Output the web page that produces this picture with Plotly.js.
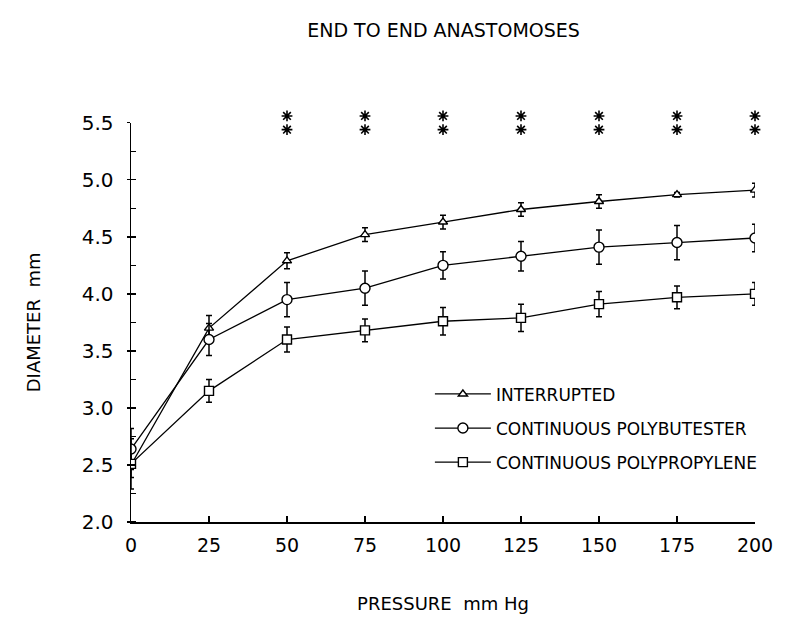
<!DOCTYPE html>
<html>
<head>
<meta charset="utf-8">
<script src="https://cdn.plot.ly/plotly-3.0.1.min.js"></script>
<style>html,body{margin:0;padding:0;background:#fff;}#chart{width:785px;height:619px;}</style>
</head>
<body>
<div id="chart"></div>
<script>
// Pressure (mm Hg)
var pressure = [0, 25, 50, 75, 100, 125, 150, 175, 200];

// Diameter (mm), mean values
var interrupted   = [2.50, 3.70, 4.29, 4.52, 4.63, 4.74, 4.81, 4.87, 4.91];
var polybutester  = [2.64, 3.60, 3.95, 4.05, 4.25, 4.33, 4.41, 4.45, 4.49];
var polypropylene = [2.51, 3.15, 3.60, 3.68, 3.76, 3.79, 3.91, 3.97, 4.00];

// Error bars (SE)
var interruptedErr   = [0.11, 0.11, 0.07, 0.06, 0.06, 0.06, 0.06, 0.02, 0.06];
var polybutesterErr  = [0.18, 0.14, 0.15, 0.15, 0.12, 0.13, 0.15, 0.15, 0.12];
var polypropyleneErr = [0.22, 0.10, 0.11, 0.10, 0.12, 0.12, 0.11, 0.10, 0.10];

// Significance markers (two asterisks per pressure), in diameter units
var sigPressure = [50, 75, 100, 125, 150, 175, 200];
var sigUpper = [5.56, 5.56, 5.56, 5.56, 5.56, 5.56, 5.56];
var sigLower = [5.44, 5.44, 5.44, 5.44, 5.44, 5.44, 5.44];

var names = ['INTERRUPTED', 'CONTINUOUS POLYBUTESTER', 'CONTINUOUS POLYPROPYLENE'];
var titleText = 'END TO END ANASTOMOSES';
var xTitle = 'PRESSURE  mm Hg';
var yTitle = 'DIAMETER  mm';

var FONT = 'DejaVu Sans, sans-serif';

// geometry: main y axis 2.0..5.5 spans a fraction of the plot area; a hidden
// second y axis on the same scale extends above it to carry the asterisks.
var yMin = 2.0, yMax = 5.5;
var y2Min = 5.38, y2Max = 5.62;
var topExtent = 5.70;               // value at the top edge of the plot area
var span = topExtent - yMin;
var mainDomain = [0, (yMax - yMin) / span];
var starDomain = [(y2Min - yMin) / span, (y2Max - yMin) / span];

function series(y, err, name, symbol, size, group) {
  return {
    x: pressure, y: y, name: name, type: 'scatter', mode: 'lines+markers',
    legendgroup: group,
    line: {color: '#000', width: 1.3},
    marker: {symbol: symbol, size: size, color: '#fff', line: {color: '#000', width: 1.4}},
    error_y: {type: 'data', array: err, visible: true, color: '#000', thickness: 1.5, width: 3}
  };
}

function stars(y) {
  return {x: sigPressure, y: y, yaxis: 'y2', mode: 'markers', showlegend: false, cliponaxis: false, hoverinfo: 'skip',
    marker: {symbol: 'asterisk-open', size: 9, color: '#000', line: {color: '#000', width: 1.6}}};
}

var traces = [
  series(interrupted, interruptedErr, names[0], 'triangle-up', 8, 'a'),
  series(polybutester, polybutesterErr, names[1], 'circle', 10, 'b'),
  series(polypropylene, polypropyleneErr, names[2], 'square', 9, 'c'),
  stars(sigUpper),
  stars(sigLower)
];

var plotBottom = 522, plotTopMain = 123;
var pxPerUnit = (plotBottom - plotTopMain) / (yMax - yMin);
var marginTop = Math.round(plotBottom - pxPerUnit * span);

var layout = {
  width: 785, height: 619,
  margin: {l: 131, r: 30, t: marginTop, b: 619 - plotBottom},
  paper_bgcolor: '#fff', plot_bgcolor: '#fff',
  font: {family: FONT, color: '#000'},
  title: {text: titleText, font: {family: FONT, size: 19, color: '#000'}, x: 0.565, xanchor: 'center', y: 0.951, yanchor: 'middle'},
  xaxis: {
    range: [0, 200], tickvals: pressure, ticktext: pressure.map(String),
    showgrid: false, zeroline: false, showline: true, linecolor: '#000', linewidth: 1.5,
    ticks: 'inside', ticklen: 6, tickwidth: 1.3, tickcolor: '#000',
    ticklabelstandoff: 6,
    tickfont: {family: FONT, size: 19, color: '#000'},
    title: {text: xTitle, font: {family: FONT, size: 18, color: '#000'}, standoff: 42}
  },
  yaxis: {
    domain: mainDomain,
    range: [yMin, yMax], dtick: 0.5, tickformat: '.1f',
    showgrid: false, zeroline: false, showline: true, linecolor: '#000', linewidth: 1.5,
    ticks: 'outside', ticklen: 3, tickwidth: 1.3, tickcolor: '#000',
    ticklabelstandoff: 9,
    minor: {dtick: 0.25, ticks: 'inside', ticklen: 5, tickwidth: 1.3, tickcolor: '#000', showgrid: false},
    tickfont: {family: FONT, size: 20, color: '#000'},
    title: {text: yTitle, font: {family: FONT, size: 18, color: '#000'}, standoff: 36}
  },
  yaxis2: {
    domain: starDomain, range: [y2Min, y2Max], anchor: 'x', visible: false,
    showgrid: false, zeroline: false, showline: false
  },
  showlegend: true,
  legend: {
    x: 0.479, y: 145.6 / (plotBottom - marginTop), xanchor: 'left', yanchor: 'top',
    bgcolor: 'rgba(0,0,0,0)', borderwidth: 0,
    font: {family: FONT, size: 17, color: '#000'},
    traceorder: 'grouped', tracegroupgap: 9, itemwidth: 56
  }
};

Plotly.newPlot('chart', traces, layout, {displayModeBar: false, staticPlot: true});
</script>
</body>
</html>
